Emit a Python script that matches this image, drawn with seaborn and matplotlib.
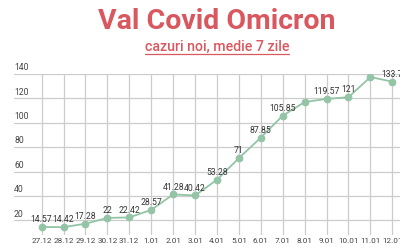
import matplotlib
matplotlib.use("Agg")
import matplotlib.pyplot as plt
import seaborn as sns
import pandas as pd
from matplotlib.lines import Line2D
import matplotlib.transforms as mtransforms

dates = ["27.12", "28.12", "29.12", "30.12", "31.12", "1.01", "2.01", "3.01",
         "4.01", "5.01", "6.01", "7.01", "8.01", "9.01", "10.01", "11.01", "12.01"]
cases = [14.57, 14.42, 17.28, 22, 22.42, 28.57, 41.28, 40.42,
         53.28, 71, 87.85, 105.85, 117, 119.57, 121, 137.5, 133.7]
labels = ["14.57", "14.42", "17.28", "22", "22.42", "28.57", "41.28", "40.42",
          "53.28", "71", "87.85", "105.85", "", "119.57", "121", "", "133.7"]
yticks = [20, 40, 60, 80, 100, 120, 140]

sns.set_theme(style="white")
plt.rcParams["font.family"] = ["Roboto", "DejaVu Sans"]

fig = plt.figure(figsize=(4, 2.5), dpi=100)
ax = fig.add_axes([0.035, 0.06, 0.965, 0.644])

df = pd.DataFrame({"x": range(len(dates)), "y": cases})
line_col = "#93c4a6"
sns.lineplot(data=df, x="x", y="y", ax=ax, color=line_col, linewidth=1.3,
             marker="o", markersize=4.8, markeredgecolor=line_col, zorder=3)

ax.set_xlim(-1.26, len(dates) - 1 + 0.35)
ax.set_ylim(8, 140)
ax.set_xticks(range(len(dates)))
ax.set_xticklabels(dates, fontsize=5.9, color="#444444")
ax.set_yticks(yticks)
ax.set_yticklabels([])
ax.tick_params(axis="x", length=0, pad=2.5)
ax.tick_params(axis="y", length=0)
ax.set_xlabel("")
ax.set_ylabel("")
for s in ax.spines.values():
    s.set_visible(False)

grid_col = "#cccccc"
for yv in yticks:
    ax.axhline(yv, color=grid_col, linewidth=0.9, zorder=1)
for xv in range(len(dates)):
    ax.axvline(xv, color=grid_col, linewidth=0.9, zorder=1)

trans = mtransforms.blended_transform_factory(ax.transAxes, ax.transData)
for yv in yticks:
    ax.text(0.0, yv + 1.5, str(yv), transform=trans, ha="left", va="bottom",
            fontsize=6.2, color="#444444")

for i, (v, lab) in enumerate(zip(cases, labels)):
    if lab:
        ax.annotate(lab, (i, v), xytext=(0, 2), textcoords="offset points",
                    ha="center", va="bottom", fontsize=6.2, color="#333333",
                    zorder=4, annotation_clip=False)

title_col = "#d9585f"
fig.text(0.543, 0.915, "Val Covid Omicron", ha="center", va="center",
         fontsize=20.5, fontweight="bold", color=title_col)
sub = fig.text(0.543, 0.812, "cazuri noi, medie 7 zile", ha="center", va="center",
               fontsize=10.2, fontweight="medium", color=title_col)
fig.canvas.draw()
bb = sub.get_window_extent(renderer=fig.canvas.get_renderer())
inv = fig.transFigure.inverted()
(x0, y0), (x1, y1) = inv.transform([[bb.x0, bb.y0], [bb.x1, bb.y1]])
fig.add_artist(Line2D([x0, x1], [y0 + 0.002, y0 + 0.002], color=title_col,
                      linewidth=0.9, transform=fig.transFigure))

fig.savefig("out.png", dpi=100)
